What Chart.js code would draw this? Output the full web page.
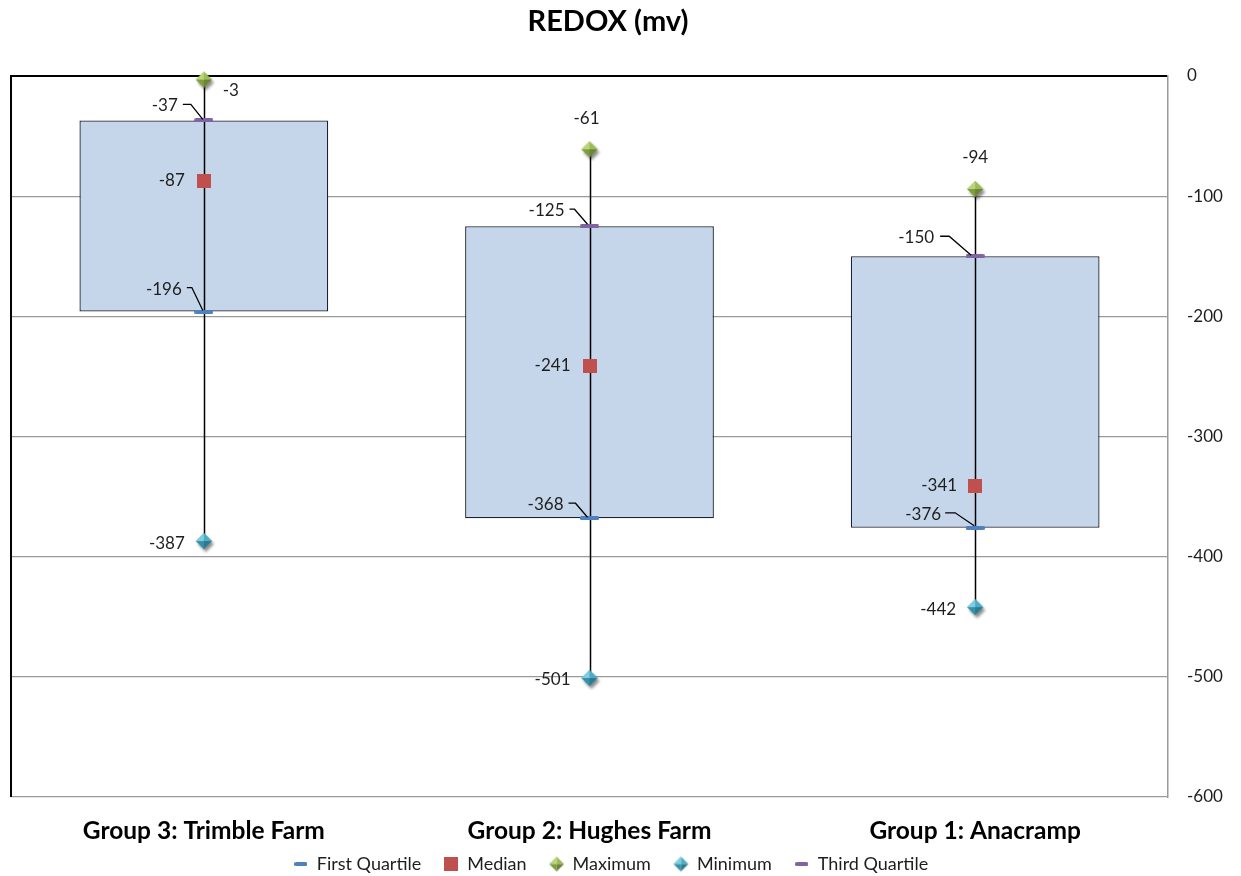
<!DOCTYPE html>
<html>
<head>
<meta charset="utf-8">
<title>REDOX (mv)</title>
<script src="https://cdn.jsdelivr.net/npm/chart.js@4.4.1/dist/chart.umd.min.js"></script>
<style>
  html, body { margin: 0; padding: 0; background: #ffffff; }
  #wrap { width: 1241px; height: 876px; position: relative; }
</style>
</head>
<body>
<div id="wrap"><canvas id="chart"></canvas></div>
<script>
// ---- data ----
const categories = ['Group 3: Trimble Farm', 'Group 2: Hughes Farm', 'Group 1: Anacramp'];
const firstQuartile = [-196, -368, -376];
const median = [-87, -241, -341];
const maximum = [-3, -61, -94];
const minimum = [-387, -501, -442];
const thirdQuartile = [-37, -125, -150];
const yTickValues = [0, -100, -200, -300, -400, -500, -600];

// ---- look ----
const FONT = 'Lato, "Open Sans", sans-serif';
const COLORS = {
  q1: '#4f81bd', median: '#c0504d', max: '#9bbb59', min: '#4bacc6', q3: '#8064a2',
  box: '#c6d6ea', boxEdge: '#1c2233', grid: '#9a9a9a', text: '#1e1e1e'
};

// label placement around each marker (pixel offsets from the marker centre);
// leader: polyline from the label towards the marker
const labelPlacement = {
  max:    [{dx: 27, dy: 11, align: 'center'}, {dx: -3, dy: -31, align: 'center'}, {dx: 0, dy: -31, align: 'center'}],
  q3:     [{dx: -26, dy: -15, align: 'right', leader: [[-21, -16], [-13, -16], [-1, -1]]},
           {dx: -25, dy: -16, align: 'right', leader: [[-20, -17], [-15, -17], [-2, -2]]},
           {dx: -41, dy: -19, align: 'right', leader: [[-35, -20], [-26, -20], [-4, -1]]}],
  median: [{dx: -19, dy: 0, align: 'right'}, {dx: -19, dy: 0, align: 'right'}, {dx: -18, dy: 0, align: 'right'}],
  q1:     [{dx: -22, dy: -22, align: 'right', leader: [[-17, -24], [-12, -24], [-1, -1]]},
           {dx: -26, dy: -14, align: 'right', leader: [[-21, -15], [-14, -15], [-2, -1]]},
           {dx: -34, dy: -13, align: 'right', leader: [[-30, -15], [-20, -15], [-1, -2]]}],
  min:    [{dx: -19, dy: 2, align: 'right'}, {dx: -19, dy: 1, align: 'right'}, {dx: -19, dy: 2, align: 'right'}]
};

// ---- marker images ----
function makeCanvas(w, h) {
  const c = document.createElement('canvas');
  c.width = w; c.height = h;
  return c;
}
function makeDash(color, w, h) {
  const c = makeCanvas(w, h), g = c.getContext('2d');
  g.fillStyle = color;
  g.beginPath();
  g.roundRect(0, 0, w, h, 1.5);
  g.fill();
  return c;
}
function makeSquare(color, s, pad) {
  const c = makeCanvas(s + pad * 2, s + pad * 2), g = c.getContext('2d');
  g.fillStyle = color;
  g.fillRect(pad, pad, s, s);
  return c;
}
function makeDiamond(light, mid, dark, deep, r, shadow) {
  const size = Math.ceil(r * 2 + 10);
  const c = makeCanvas(size, size), g = c.getContext('2d');
  const cx = size / 2, cy = size / 2;
  const T = [cx, cy - r], R = [cx + r, cy], B = [cx, cy + r], L = [cx - r, cy], C = [cx, cy];
  if (shadow) {
    g.save();
    g.shadowColor = 'rgba(0,0,0,0.45)';
    g.shadowBlur = 3;
    g.shadowOffsetX = 2;
    g.shadowOffsetY = 3;
    g.fillStyle = mid;
    g.beginPath(); g.moveTo(...T); g.lineTo(...R); g.lineTo(...B); g.lineTo(...L); g.closePath(); g.fill();
    g.restore();
  }
  const face = (a, b, col) => {
    g.fillStyle = col;
    g.beginPath(); g.moveTo(...a); g.lineTo(...b); g.lineTo(...C); g.closePath(); g.fill();
  };
  face(L, T, light);
  face(T, R, mid);
  face(L, B, dark);
  face(B, R, deep);
  return c;
}

const markerImg = {
  q1: makeDash(COLORS.q1, 19, 4),
  q3: makeDash(COLORS.q3, 19, 4),
  median: makeSquare(COLORS.median, 14, 0),
  max: makeDiamond('#b9d57a', '#9bbb59', '#7f9c41', '#6a8535', 8, true),
  min: makeDiamond('#7fcbe0', '#4bacc6', '#3890a8', '#2c7a90', 8, true)
};
const legendImg = {
  q1: makeDash(COLORS.q1, 13, 4),
  q3: makeDash(COLORS.q3, 13, 4),
  median: makeSquare(COLORS.median, 14, 0),
  max: makeDiamond('#b9d57a', '#9bbb59', '#7f9c41', '#6a8535', 7.5, false),
  min: makeDiamond('#7fcbe0', '#4bacc6', '#3890a8', '#2c7a90', 7.5, false)
};

// ---- datasets ----
const boxRanges = categories.map((_, i) => [firstQuartile[i], thirdQuartile[i]]);

function markerSet(label, key, values) {
  return {
    type: 'line',
    label,
    key,
    data: values,
    showLine: false,
    clip: false,
    pointStyle: markerImg[key],
    pointRadius: 8,
    pointHoverRadius: 8,
    backgroundColor: COLORS[key],
    borderColor: COLORS[key],
    order: 1
  };
}

const datasets = [
  markerSet('First Quartile', 'q1', firstQuartile),
  markerSet('Median', 'median', median),
  markerSet('Maximum', 'max', maximum),
  markerSet('Minimum', 'min', minimum),
  markerSet('Third Quartile', 'q3', thirdQuartile),
  {
    type: 'bar',
    label: 'Box',
    key: 'box',
    data: boxRanges,
    backgroundColor: COLORS.box,
    borderColor: COLORS.boxEdge,
    borderWidth: 1.3,
    borderSkipped: false,
    barPercentage: 0.645,
    categoryPercentage: 1,
    order: 5
  }
];

// whiskers, plot frame, value labels and title
const boxPlotDecor = {
  id: 'boxPlotDecor',
  afterLayout(chart) {
    // legend row sits slightly left of the canvas centre
    if (chart.legend) {
      chart.legend.left -= 15;
      chart.legend.right -= 15;
    }
  },
  beforeDatasetsDraw(chart) {
    const {ctx, chartArea} = chart;
    ctx.save();
    ctx.strokeStyle = '#000';
    ctx.lineWidth = 2;
    ctx.beginPath();
    ctx.moveTo(chartArea.left, chartArea.top - 1);
    ctx.lineTo(chartArea.left, chartArea.bottom);
    ctx.stroke();
    ctx.restore();
  },
  afterDatasetDraw(chart, args) {
    if (args.meta.type !== 'bar') return;
    const {ctx} = chart, xs = chart.scales.x, ys = chart.scales.y;
    ctx.save();
    ctx.strokeStyle = '#000';
    ctx.lineWidth = 1.5;
    categories.forEach((_, i) => {
      const px = Math.round(xs.getPixelForValue(i)) + 0.5;
      ctx.beginPath();
      ctx.moveTo(px, ys.getPixelForValue(maximum[i]));
      ctx.lineTo(px, ys.getPixelForValue(minimum[i]));
      ctx.stroke();
    });
    ctx.restore();
  },
  afterDatasetsDraw(chart) {
    const {ctx} = chart, xs = chart.scales.x, ys = chart.scales.y;
    const series = {q1: firstQuartile, median, max: maximum, min: minimum, q3: thirdQuartile};
    ctx.save();
    ctx.font = '17px ' + FONT;
    ctx.fillStyle = COLORS.text;
    ctx.strokeStyle = '#000';
    ctx.lineWidth = 1.3;
    ctx.textBaseline = 'middle';
    Object.keys(labelPlacement).forEach(key => {
      series[key].forEach((v, i) => {
        const p = labelPlacement[key][i];
        const mx = xs.getPixelForValue(i), my = ys.getPixelForValue(v);
        if (p.leader) {
          ctx.beginPath();
          p.leader.forEach(([lx, ly], k) => {
            if (k === 0) ctx.moveTo(mx + lx, my + ly); else ctx.lineTo(mx + lx, my + ly);
          });
          ctx.stroke();
        }
        ctx.textAlign = p.align;
        ctx.fillText(String(v), mx + p.dx, my + p.dy);
      });
    });
    ctx.restore();
  },
  afterDraw(chart) {
    const {ctx} = chart;
    ctx.save();
    ctx.font = 'bold 29px ' + FONT;
    ctx.fillStyle = '#000';
    ctx.textAlign = 'center';
    ctx.textBaseline = 'middle';
    ctx.fillText('REDOX (mv)', 608, 22);
    ctx.restore();
  }
};

const PLOT_BOTTOM = 797;
const BOTTOM_PAD = -7;

new Chart(document.getElementById('chart'), {
  data: {labels: categories, datasets},
  options: {
    responsive: true,
    maintainAspectRatio: false,
    animation: false,
    events: [],
    layout: {padding: {top: 76, left: 11, right: 0, bottom: BOTTOM_PAD}},
    scales: {
      x: {
        type: 'category',
        offset: true,
        grid: {display: false, drawTicks: false},
        border: {display: false},
        ticks: {
          padding: 19,
          color: '#000',
          font: {family: FONT, size: 24.5, weight: 'bold'},
          maxRotation: 0,
          autoSkip: false
        },
        afterFit(scale) {
          const legendH = scale.chart.legend ? scale.chart.legend.height : 0;
          scale.height = scale.chart.height - BOTTOM_PAD - PLOT_BOTTOM - legendH;
          // category names may run a little into the legend band
          scale._computeLabelArea = () => undefined;
        }
      },
      y: {
        position: 'right',
        min: -600,
        max: 0,
        afterBuildTicks(scale) {
          scale.ticks = yTickValues.map(v => ({value: v}));
        },
        grid: {
          drawTicks: false,
          color: ctx => (ctx.tick && ctx.tick.value === 0 ? '#000' : COLORS.grid),
          lineWidth: ctx => (ctx.tick && ctx.tick.value === 0 ? 2 : 1.3)
        },
        border: {display: true, color: COLORS.grid, width: 1.5},
        ticks: {
          padding: 19,
          color: COLORS.text,
          font: {family: FONT, size: 17}
        },
        afterFit(scale) { scale.width = 73; }
      }
    },
    plugins: {
      title: {display: false},
      tooltip: {enabled: false},
      legend: {
        position: 'bottom',
        labels: {
          usePointStyle: true,
          boxHeight: 14,
          pointStyleWidth: 14,
          padding: 23,
          color: COLORS.text,
          font: {family: FONT, size: 18},
          generateLabels(chart) {
            return chart.data.datasets
              .map((ds, i) => ({ds, i}))
              .filter(({ds}) => ds.key !== 'box')
              .map(({ds, i}) => ({
                text: ds.label,
                pointStyle: legendImg[ds.key],
                fillStyle: COLORS[ds.key],
                strokeStyle: COLORS[ds.key],
                lineWidth: 0,
                fontColor: COLORS.text,
                hidden: false,
                datasetIndex: i
              }));
          }
        }
      }
    }
  },
  plugins: [boxPlotDecor]
});
</script>
</body>
</html>
